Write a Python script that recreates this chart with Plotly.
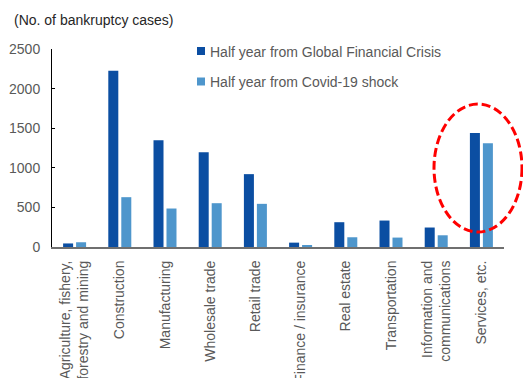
import plotly.graph_objects as go

# Bankruptcy cases by industry, six months after each shock
categories = [
    "Agriculture, fishery,<br>forestry and mining",
    "Construction",
    "Manufacturing",
    "Wholesale trade",
    "Retail trade",
    "Finance / insurance",
    "Real estate",
    "Transportation",
    "Information and<br>communications",
    "Services, etc.",
]
gfc_cases = [45, 2225, 1347, 1195, 920, 55, 313, 334, 246, 1439]
covid_cases = [60, 629, 486, 553, 545, 21, 123, 119, 148, 1309]
series_names = [
    "Half year from Global Financial Crisis",
    "Half year from Covid-19 shock",
]
series_colors = ["#0B4EA2", "#4E96CC"]
y_ticks = [0, 500, 1000, 1500, 2000, 2500]

FONT = "Liberation Sans, Arial, sans-serif"
GREY = "#595959"

W, H = 523, 378
L, R, T, B = 52, 19, 49, 131


def px_x(px):
    return (px - L) / (W - L - R)


def px_y(py):
    return (H - B - py) / (H - T - B)


fig = go.Figure()
for name, vals, col in zip(series_names, [gfc_cases, covid_cases], series_colors):
    fig.add_trace(go.Bar(x=categories, y=vals, name=name, marker_color=col,
                         marker_line_width=0, showlegend=False))

# legend drawn as swatch + label pairs
for i, (name, col) in enumerate(zip(series_names, series_colors)):
    cy = 51 + i * 30.5
    fig.add_shape(type="rect", xref="paper", yref="paper",
                  x0=px_x(197), x1=px_x(205), y0=px_y(cy + 4), y1=px_y(cy - 4),
                  fillcolor=col, line_width=0)
    fig.add_annotation(text=name, xref="paper", yref="paper", x=px_x(208), y=px_y(cy + 0.5),
                       xanchor="left", yanchor="middle", showarrow=False,
                       font=dict(family=FONT, size=14, color=GREY))

# unit label
fig.add_annotation(text="(No. of bankruptcy cases)", xref="paper", yref="paper",
                   x=px_x(12), y=px_y(20), xanchor="left", yanchor="middle",
                   showarrow=False, font=dict(family=FONT, size=14, color="#262626"))

# highlight around the services group
fig.add_shape(type="circle", xref="paper", yref="paper",
              x0=px_x(434), x1=px_x(522), y0=px_y(232), y1=px_y(104),
              line=dict(color="#FF0000", width=3, dash="9px,4px"), layer="above")

fig.update_layout(
    width=W, height=H,
    margin=dict(l=L, r=R, t=T, b=B, autoexpand=False),
    paper_bgcolor="white", plot_bgcolor="white",
    barmode="group", bargap=0.425, bargroupgap=0.23,
    font=dict(family=FONT, size=14, color=GREY),
)
fig.update_xaxes(
    showline=True, linecolor="#6f6f6f", linewidth=2, ticks="",
    tickangle=-90, tickfont=dict(family=FONT, size=14, color=GREY),
    showgrid=False, automargin=False, ticklabelstandoff=6,
)
fig.update_yaxes(
    range=[0, 2500], tickvals=y_ticks, showline=True, linecolor="#000000", linewidth=1,
    ticks="inside", ticklen=3, tickcolor="#000000", showgrid=False, zeroline=False,
    tickfont=dict(family=FONT, size=14, color=GREY), automargin=False,
    ticklabelstandoff=8,
)

fig.write_html("out.html")
